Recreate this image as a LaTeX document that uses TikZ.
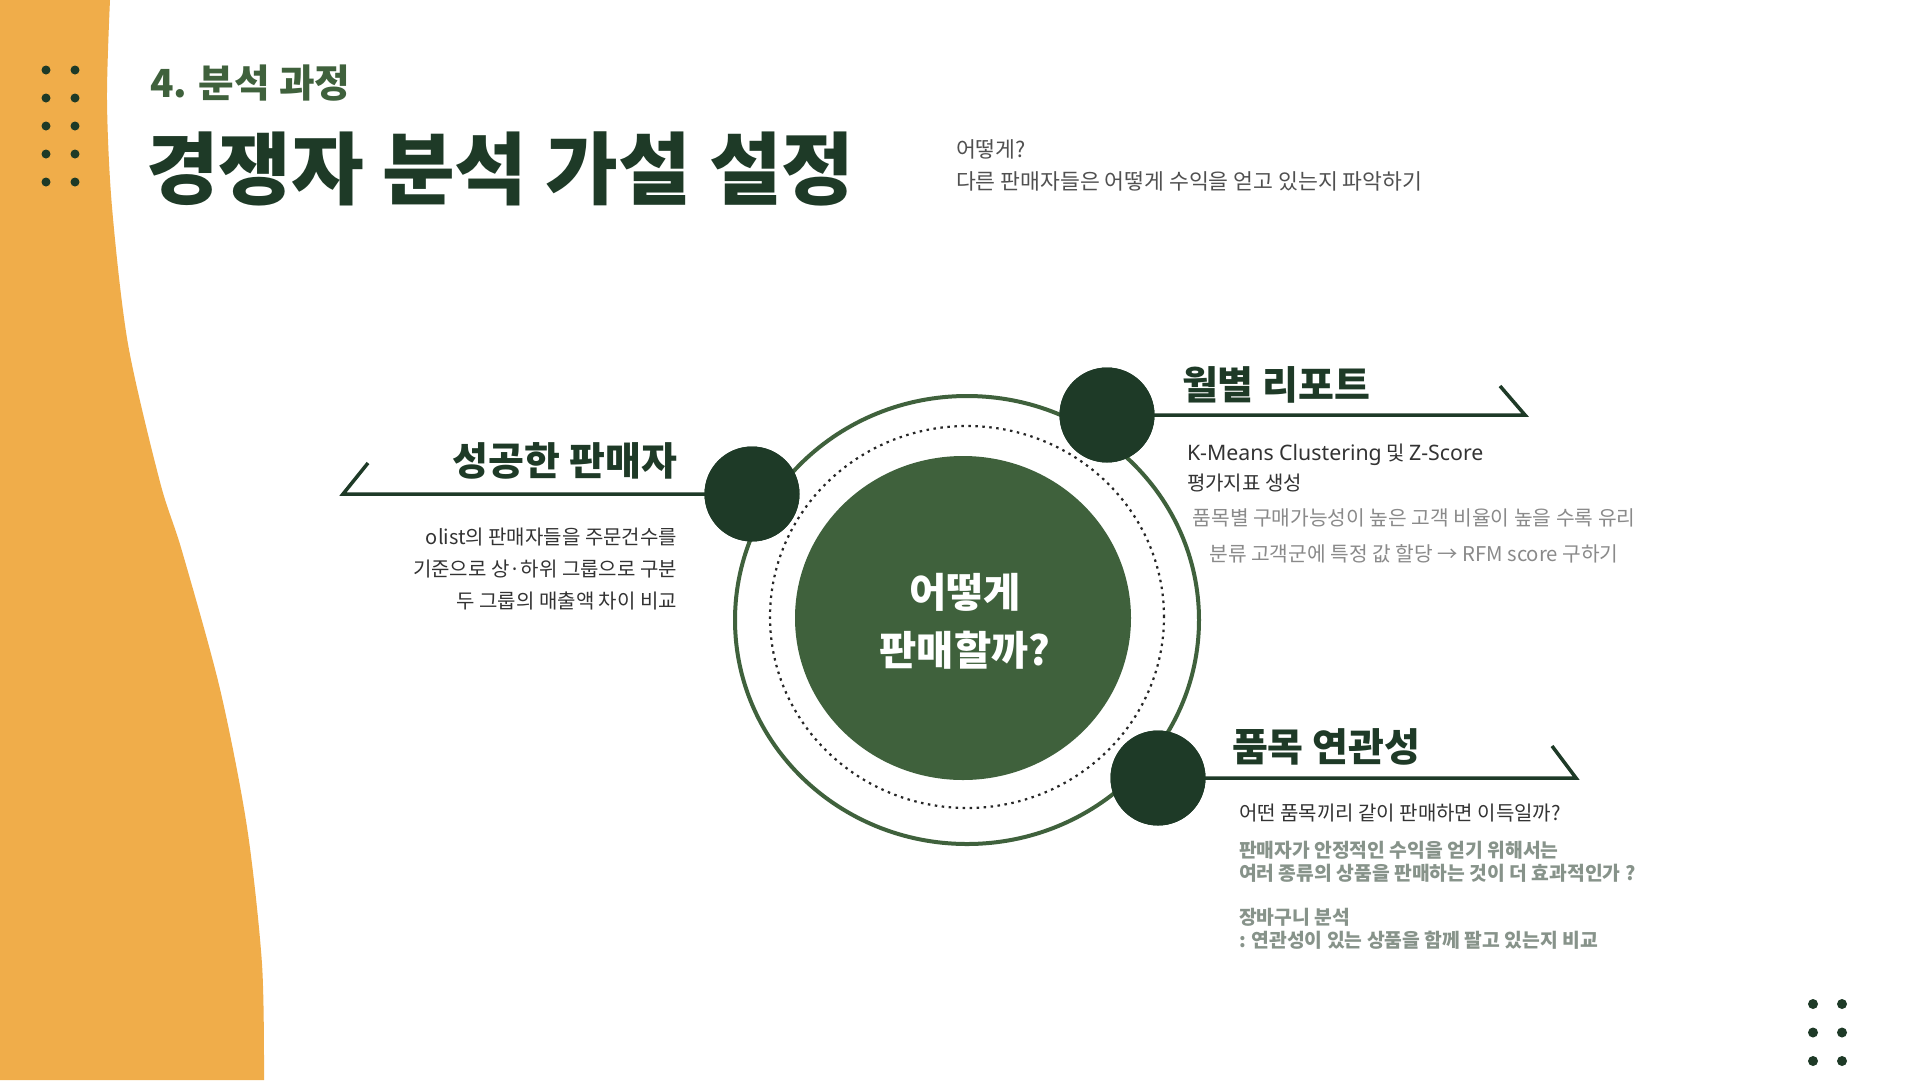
\documentclass[tikz,border=0pt]{standalone}
\usepackage{fontspec}
\setmainfont{Noto Sans CJK KR}
\newfontfamily\latinfont{Noto Sans}
\usetikzlibrary{shapes.geometric}
\definecolor{orng}{HTML}{F0AD4A}
\definecolor{dkgreen}{HTML}{1E3A27}
\definecolor{mdgreen}{HTML}{3F613C}
\definecolor{txtdark}{HTML}{333333}
\definecolor{txtgray}{HTML}{505050}
\definecolor{txtlight}{HTML}{8A8A8A}
\definecolor{txtsage}{HTML}{87938A}
\newcommand{\fsz}[1]{\fontsize{#1}{#1}\selectfont}
\begin{document}
\begin{tikzpicture}[x=1pt,y=-1pt,
  txt/.style={inner sep=0pt, outer sep=0pt},
  gdot/.style={circle, fill=dkgreen, inner sep=0pt, minimum size=9pt},
  hub/.style={circle, fill=dkgreen, inner sep=0pt, minimum size=95pt},
  conn/.style={draw=dkgreen, line width=3.5pt},
  head/.style={txt, font=\bfseries\fsz{39}, text=dkgreen},
  body/.style={txt, font=\fsz{20}, text=txtdark},
  sage/.style={txt, font=\bfseries\fsz{19.3}, text=txtsage},
]
\useasboundingbox (0,0) rectangle (1920,1080);
\fill[white] (0,0) rectangle (1920,1080);
% orange wave
\fill[orng] (0,0) -- plot[smooth] coordinates {(110,0) (107,100) (112,207) (128,344) (160,482) (182,551) (220,689) (247,827) (262,964) (264,1080)} -- (0,1080) -- cycle;
% dot grids
\foreach \r in {0,...,4}{
  \node[gdot] (tl\r a) at (46,{70+28*\r}) {};
  \node[gdot] (tl\r b) at (75,{70+28*\r}) {};
}
\foreach \r in {0,...,2}{
  \node[gdot, minimum size=10pt] (br\r a) at (1813,{1004+28.5*\r}) {};
  \node[gdot, minimum size=10pt] (br\r b) at (1842,{1004+28.5*\r}) {};
}
% titles
\node[txt, anchor=base west, font=\bfseries\fsz{38.7}, text=mdgreen] (sect) at (150,97) {4. 분석 과정};
\node[txt, anchor=base west, font=\bfseries\fsz{79}, text=dkgreen] (title) at (146,198) {경쟁자 분석 가설 설정};
\node[txt, anchor=base west, font=\fsz{21.6}, text=txtgray] (sub1) at (956,157) {어떻게?};
\node[txt, anchor=base west, font=\fsz{21.6}, text=txtgray] (sub2) at (956,189) {다른 판매자들은 어떻게 수익을 얻고 있는지 파악하기};
% central rings
\node[ellipse, draw=mdgreen, line width=4pt, minimum width=464pt, minimum height=448pt, inner sep=0pt] (ring) at (967,620) {};
\node[ellipse, draw=black!85, line width=2.2pt, dash pattern=on 2.5pt off 4.5pt, minimum width=394pt, minimum height=382pt, inner sep=0pt] (dring) at (967,617) {};
\node[ellipse, fill=mdgreen, minimum width=336pt, minimum height=324pt, inner sep=0pt] (core) at (963,618) {};
\node[txt, anchor=base, font=\bfseries\fsz{40.5}, text=white] (q1) at (965,607) {어떻게};
\node[txt, anchor=base, font=\bfseries\fsz{40.5}, text=white] (q2) at (965,665) {판매할까?};
% hubs
\node[hub] (hL) at (752,494) {};
\node[hub] (hT) at (1107,415) {};
\node[hub] (hB) at (1158,778) {};
% connectors
\coordinate (lA) at (343,494);
\coordinate (lB) at (368,463);
\draw[conn, line join=miter] (hL.center) -- (lA) -- (lB);
\coordinate (tA) at (1525,415);
\coordinate (tB) at (1500,386);
\draw[conn, line join=miter] (hT.center) -- (tA) -- (tB);
\coordinate (bA) at (1576,778);
\coordinate (bB) at (1552,746);
\draw[conn, line join=miter] (hB.center) -- (bA) -- (bB);
\node[hub] at (hL) {};
\node[hub] at (hT) {};
\node[hub] at (hB) {};
% left block
\node[head, anchor=base east] (hdL) at (677,475) {성공한 판매자};
\node[body, anchor=base east] (l1) at (677,544) {olist의 판매자들을 주문건수를};
\node[body, anchor=base east] (l2) at (677,576) {기준으로 상·하위 그룹으로 구분};
\node[body, anchor=base east] (l3) at (677,608) {두 그룹의 매출액 차이 비교};
% top right block
\node[head, anchor=base west] (hdT) at (1182,399) {월별 리포트};
\node[body, anchor=base west] (t1) at (1187,460) {{\latinfont\fsz{21.3}K-Means Clustering} 및 {\latinfont\fsz{21.3}Z-Score}};
\node[body, anchor=base west] (t2) at (1187,490) {평가지표 생성};
\node[txt, anchor=base, font=\fsz{20.3}, text=txtlight] (t3) at (1414,525) {품목별 구매가능성이 높은 고객 비율이 높을 수록 유리};
\node[txt, anchor=base, font=\fsz{20.3}, text=txtlight] (t4) at (1414,561) {분류 고객군에 특정 값 할당 → RFM score 구하기};
% bottom right block
\node[head, anchor=base west] (hdB) at (1232,761) {품목 연관성};
\node[body, anchor=base west] (b1) at (1239,820) {어떤 품목끼리 같이 판매하면 이득일까?};
\node[sage, anchor=base west] (b2) at (1239,857) {판매자가 안정적인 수익을 얻기 위해서는};
\node[sage, anchor=base west] (b3) at (1239,880) {여러 종류의 상품을 판매하는 것이 더 효과적인가 ?};
\node[sage, anchor=base west] (b4) at (1239,924) {장바구니 분석};
\node[sage, anchor=base west] (b5) at (1239,947) {: 연관성이 있는 상품을 함께 팔고 있는지 비교};
\end{tikzpicture}
\end{document}
